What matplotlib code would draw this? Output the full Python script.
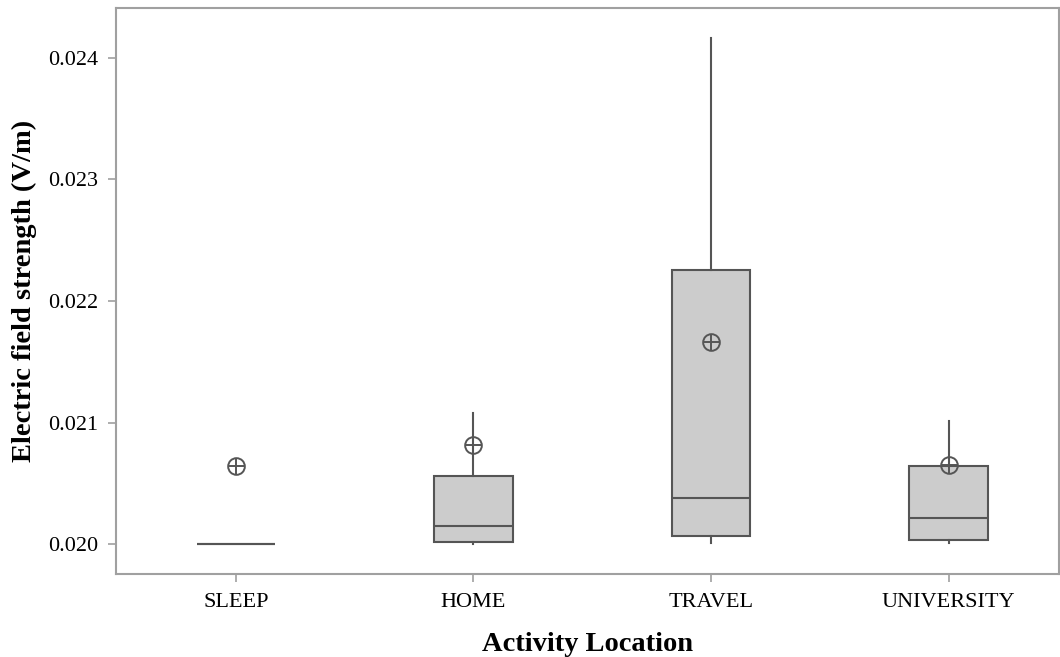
import matplotlib
matplotlib.use("Agg")
import matplotlib.pyplot as plt

categories = ["SLEEP", "HOME", "TRAVEL", "UNIVERSITY"]
whislo = [0.02000, 0.02000, 0.020008, 0.020008]
q1 = [0.02000, 0.020016, 0.020068, 0.020033]
med = [0.02000, 0.020150, 0.020383, 0.020219]
q3 = [0.02000, 0.020562, 0.022256, 0.020644]
whishi = [0.02000, 0.021082, 0.024161, 0.021016]
means = [0.020646, 0.020817, 0.021666, 0.020652]
yticks = [0.020, 0.021, 0.022, 0.023, 0.024]

plt.rcParams['font.family'] = ['Liberation Serif', 'DejaVu Serif']

fig = plt.figure(figsize=(10.6, 6.57), dpi=100)
ax = fig.add_axes([116/1060, 1-574/657, (1059-116)/1060, (574-8)/657])

stats = []
for i, c in enumerate(categories):
    stats.append(dict(label=c, whislo=whislo[i], q1=q1[i], med=med[i],
                      q3=q3[i], whishi=whishi[i], mean=means[i], fliers=[]))

edge = "#555555"
ax.bxp(stats, positions=range(len(categories)), widths=0.33, patch_artist=True,
       showcaps=False, showfliers=False, showmeans=False,
       boxprops=dict(facecolor="#cccccc", edgecolor=edge, linewidth=1.5),
       medianprops=dict(color=edge, linewidth=1.5),
       whiskerprops=dict(color=edge, linewidth=1.5))

ax.plot(range(len(categories)), means, linestyle="none", marker="o",
        markersize=12, markerfacecolor="none", markeredgecolor=edge,
        markeredgewidth=1.4, zorder=5)
ax.plot(range(len(categories)), means, linestyle="none", marker="+",
        markersize=11, markeredgecolor=edge, markeredgewidth=1.4, zorder=5)

ax.set_xlim(-0.505, 3.465)
ax.set_ylim(0.019756, 0.02441)
ax.set_yticks(yticks)
ax.set_yticklabels([f"{v:.3f}" for v in yticks])
ax.set_xticks(range(len(categories)))
ax.set_xticklabels(categories)

for s in ax.spines.values():
    s.set_color("#a0a0a0")
    s.set_linewidth(1.5)
ax.tick_params(axis="both", colors="#a0a0a0", labelcolor="black",
               labelsize=16, length=6, width=1.2)
ax.tick_params(axis="x", pad=8)
ax.tick_params(axis="y", pad=7)

ax.set_xlabel("Activity Location", fontsize=20.5, fontweight="bold", labelpad=14)
ax.set_ylabel("Electric field strength (V/m)", fontsize=20.5, fontweight="bold", labelpad=8)

fig.savefig("out.png", dpi=100)
